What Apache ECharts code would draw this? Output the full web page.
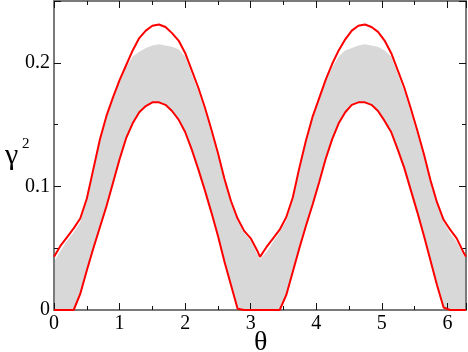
<!DOCTYPE html>
<html>
<head>
<meta charset="utf-8">
<script src="https://cdn.jsdelivr.net/npm/echarts@6/dist/echarts.min.js"></script>
<style>
  html, body { margin: 0; padding: 0; background: #fff; }
  #main { width: 468px; height: 352px; }
</style>
</head>
<body>
<div id="main"></div>
<script>
// theta samples: 0..3.1 step 0.1, pi, then pi+0.1 .. pi+3.1, 2pi
var theta = [
  0, 0.1, 0.2, 0.3, 0.4, 0.5, 0.6, 0.7, 0.8, 0.9, 1.0, 1.1, 1.2, 1.3, 1.4, 1.5,
  1.6, 1.7, 1.8, 1.9, 2.0, 2.1, 2.2, 2.3, 2.4, 2.5, 2.6, 2.7, 2.8, 2.9, 3.0, 3.1,
  3.1416,
  3.2416, 3.3416, 3.4416, 3.5416, 3.6416, 3.7416, 3.8416, 3.9416, 4.0416, 4.1416,
  4.2416, 4.3416, 4.4416, 4.5416, 4.6416, 4.7416, 4.8416, 4.9416, 5.0416, 5.1416,
  5.2416, 5.3416, 5.4416, 5.5416, 5.6416, 5.7416, 5.8416, 5.9416, 6.0416, 6.1416,
  6.2416, 6.2832
];

// upper red envelope
var upperRed = [
  0.043, 0.052, 0.059, 0.066, 0.074, 0.090, 0.114, 0.138, 0.157, 0.172, 0.186, 0.198,
  0.210, 0.220, 0.226, 0.230, 0.231, 0.229, 0.224, 0.218, 0.208, 0.194, 0.180, 0.164,
  0.146, 0.127, 0.106, 0.088, 0.074, 0.064, 0.058, 0.048,
  0.043,
  0.051, 0.058, 0.065, 0.075, 0.091, 0.115, 0.137, 0.156, 0.171, 0.186, 0.199,
  0.210, 0.219, 0.226, 0.230, 0.231, 0.229, 0.225, 0.218, 0.208, 0.194, 0.180,
  0.163, 0.145, 0.126, 0.105, 0.087, 0.073, 0.065, 0.058, 0.047,
  0.043
];

// lower red envelope
var lowerRed = [
  0, 0, 0, 0, 0.013, 0.032, 0.050, 0.067, 0.084, 0.103, 0.122, 0.139,
  0.151, 0.160, 0.165, 0.168, 0.168, 0.166, 0.161, 0.154, 0.144, 0.130, 0.114, 0.097,
  0.079, 0.060, 0.039, 0.020, 0.001, 0, 0, 0,
  0,
  0, 0, 0, 0.012, 0.031, 0.050, 0.068, 0.085, 0.103, 0.122, 0.138,
  0.151, 0.160, 0.166, 0.168, 0.168, 0.166, 0.161, 0.153, 0.144, 0.130,
  0.115, 0.097, 0.079, 0.060, 0.040, 0.020, 0.002, 0, 0, 0,
  0
];

// top edge of the grey cloud of trajectories
var grayTop = [
  0.039, 0.048, 0.056, 0.063, 0.071, 0.088, 0.112, 0.136, 0.155, 0.170, 0.184, 0.196,
  0.205, 0.209, 0.212, 0.214, 0.215, 0.214, 0.213, 0.211, 0.205, 0.191, 0.177, 0.161,
  0.143, 0.124, 0.104, 0.086, 0.072, 0.062, 0.056, 0.045,
  0.041,
  0.047, 0.055, 0.063, 0.072, 0.089, 0.113, 0.135, 0.154, 0.169, 0.184, 0.196,
  0.205, 0.210, 0.212, 0.214, 0.215, 0.214, 0.213, 0.210, 0.205, 0.191, 0.177,
  0.160, 0.142, 0.123, 0.103, 0.085, 0.071, 0.062, 0.055, 0.045,
  0.041
];

var xMax = 6.2832, xMajor = 1, xMinor = 0.5;
var yMax = 0.25, yMajor = 0.1, yMinor = 0.05;

var serif = 'Liberation Serif';
var frameColor = '#7a7a7a';

function pairs(ys) {
  return theta.map(function (t, i) { return [t, ys[i]]; });
}

// kind: 'frame' (line + labels), 'major' or 'minor' (ticks only)
function axis(pos, max, step, kind, labels) {
  return {
    type: 'value', position: pos, min: 0, max: max, interval: step, z: 10,
    axisLine: { show: kind === 'frame', onZero: false, lineStyle: { color: frameColor, width: 2 } },
    axisTick: {
      show: kind !== 'frame', inside: true, length: kind === 'major' ? 7 : 4,
      lineStyle: { color: '#111', width: 1 }
    },
    axisLabel: {
      show: !!labels, showMaxLabel: false, margin: 4,
      fontFamily: serif, fontSize: 20, color: '#000'
    },
    splitLine: { show: false }
  };
}

var chart = echarts.init(document.getElementById('main'));
chart.setOption({
  animation: false,
  grid: { left: 54, right: 2, top: 1, bottom: 42 },
  xAxis: [
    axis('bottom', xMax, xMajor, 'frame', true),
    axis('top', xMax, xMajor, 'frame', false),
    axis('bottom', xMax, xMajor, 'major'),
    axis('bottom', xMax, xMinor, 'minor'),
    axis('top', xMax, xMajor, 'major'),
    axis('top', xMax, xMinor, 'minor')
  ],
  yAxis: [
    axis('left', yMax, yMajor, 'frame', true),
    axis('right', yMax, yMajor, 'frame', false),
    axis('left', yMax, yMajor, 'major'),
    axis('left', yMax, yMinor, 'minor'),
    axis('right', yMax, yMajor, 'major'),
    axis('right', yMax, yMinor, 'minor')
  ],
  graphic: [
    { type: 'text', left: 254, top: 329, style: { text: 'θ', fontFamily: serif, fontSize: 28, fill: '#000' } },
    { type: 'text', left: 5, top: 141, style: { text: 'γ', fontFamily: serif, fontSize: 30, fill: '#000' } },
    { type: 'text', left: 22, top: 137, style: { text: '2', fontFamily: serif, fontSize: 15, fill: '#000' } }
  ],
  series: [
    {
      name: 'cloud', type: 'line', data: pairs(grayTop),
      showSymbol: false, silent: true, lineStyle: { width: 0 },
      areaStyle: { color: '#d8d8d8', opacity: 1 }
    },
    {
      name: 'below', type: 'line', data: pairs(lowerRed),
      showSymbol: false, silent: true, lineStyle: { width: 0 },
      areaStyle: { color: '#ffffff', opacity: 1 }
    },
    {
      name: 'upper', type: 'line', data: pairs(upperRed), showSymbol: false, z: 20,
      lineStyle: { color: '#ff0000', width: 2 }
    },
    {
      name: 'lower', type: 'line', data: pairs(lowerRed), showSymbol: false, z: 20,
      lineStyle: { color: '#ff0000', width: 2 }
    }
  ]
});
</script>
</body>
</html>
